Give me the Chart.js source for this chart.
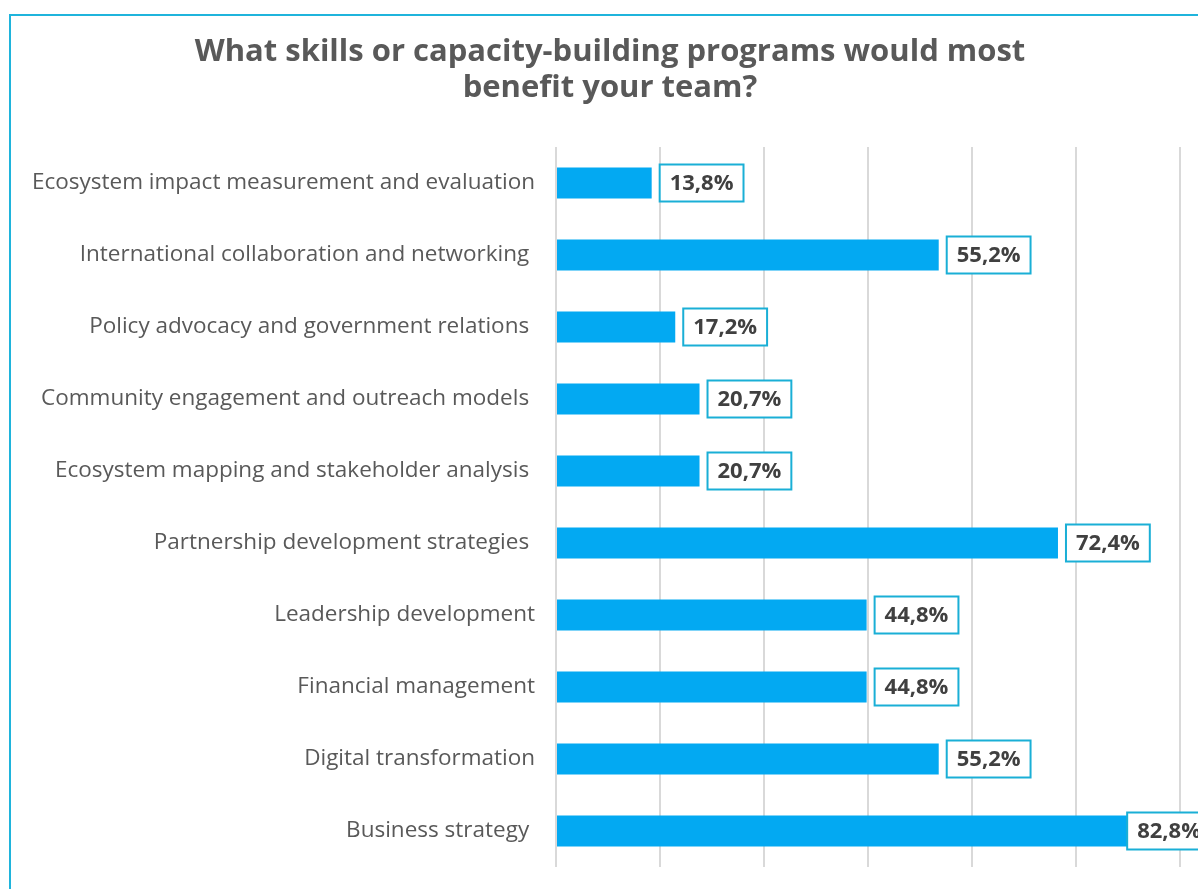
<!DOCTYPE html>
<html>
<head>
<meta charset="utf-8">
<title>Capacity-building programs</title>
<script src="https://cdn.jsdelivr.net/npm/chart.js@4.4.1/dist/chart.umd.min.js"></script>
<style>
  html, body { margin: 0; padding: 0; background: #ffffff; overflow: hidden; width: 1198px; height: 889px; }
  #frame { position: absolute; left: 9px; top: 14px; width: 1400px; height: 1100px; border: 2px solid #1fb4dc; box-sizing: border-box; }
  #wrap { position: absolute; left: 0; top: 0; width: 1198px; height: 889px; }
</style>
</head>
<body>
<div id="frame"></div>
<div id="wrap"><canvas id="chart"></canvas></div>
<script>
// Survey answers, top to bottom
const categories = [
  'Ecosystem impact measurement and evaluation',
  'International collaboration and networking ',
  'Policy advocacy and government relations ',
  'Community engagement and outreach models ',
  'Ecosystem mapping and stakeholder analysis ',
  'Partnership development strategies ',
  'Leadership development',
  'Financial management',
  'Digital transformation',
  'Business strategy '
];
const shares = [13.8, 55.2, 17.2, 20.7, 20.7, 72.4, 44.8, 44.8, 55.2, 82.8];
const titleLines = ['What skills or capacity-building programs would most', 'benefit your team?'];
const axisMax = 90;
const axisStep = 15;

const FONT = '"Open Sans", "DejaVu Sans", sans-serif';

// Two-line heading, centred on the framed panel
const panelTitle = {
  id: 'panelTitle',
  afterDraw(chart) {
    const ctx = chart.ctx;
    ctx.save();
    ctx.font = 'bold 31px ' + FONT;
    ctx.fillStyle = '#595959';
    ctx.textAlign = 'center';
    ctx.textBaseline = 'middle';
    titleLines.forEach((line, i) => ctx.fillText(line, 610, 52 + i * 36));
    ctx.restore();
  }
};

// Boxed value label to the right of each bar; kept from running too far past the plot
const valueBoxes = {
  id: 'valueBoxes',
  afterDatasetsDraw(chart) {
    const ctx = chart.ctx;
    const meta = chart.getDatasetMeta(0);
    const rightLimit = chart.chartArea.right + 31;
    ctx.save();
    ctx.font = 'bold 22px ' + FONT;
    ctx.textBaseline = 'middle';
    ctx.textAlign = 'center';
    meta.data.forEach((bar, i) => {
      const txt = shares[i].toFixed(1).replace('.', ',') + '%';
      const w = ctx.measureText(txt).width + 20;
      const h = 37;
      const x0 = Math.min(bar.x + 8, rightLimit - w);
      const y0 = bar.y - h / 2;
      ctx.fillStyle = '#ffffff';
      ctx.fillRect(x0, y0, w, h);
      ctx.strokeStyle = '#1aafd6';
      ctx.lineWidth = 2;
      ctx.strokeRect(x0, y0, w, h);
      ctx.fillStyle = '#404040';
      ctx.fillText(txt, x0 + w / 2, bar.y + 1);
    });
    ctx.restore();
  }
};

new Chart(document.getElementById('chart'), {
  type: 'bar',
  data: {
    labels: categories,
    datasets: [{
      data: shares,
      backgroundColor: '#03a9f2',
      borderWidth: 0,
      categoryPercentage: 1,
      barPercentage: 0.43
    }]
  },
  options: {
    indexAxis: 'y',
    responsive: true,
    maintainAspectRatio: false,
    animation: false,
    layout: { padding: { left: 0, right: 18, top: 147, bottom: 22 } },
    plugins: {
      legend: { display: false },
      tooltip: { enabled: false },
      title: { display: false }
    },
    scales: {
      x: {
        min: 0,
        max: axisMax,
        ticks: { stepSize: axisStep, display: false },
        grid: { color: '#d9d9d9', lineWidth: 2, drawTicks: false },
        border: { display: false }
      },
      y: {
        grid: { display: false, drawTicks: false },
        border: { display: false },
        ticks: { color: '#595959', font: { family: FONT, size: 22.5 }, padding: 21 },
        afterFit(scale) {
          scale.width = 556;
          scale.paddingTop = 0;
          scale.paddingBottom = 0;
        }
      }
    }
  },
  plugins: [valueBoxes, panelTitle]
});
</script>
</body>
</html>
